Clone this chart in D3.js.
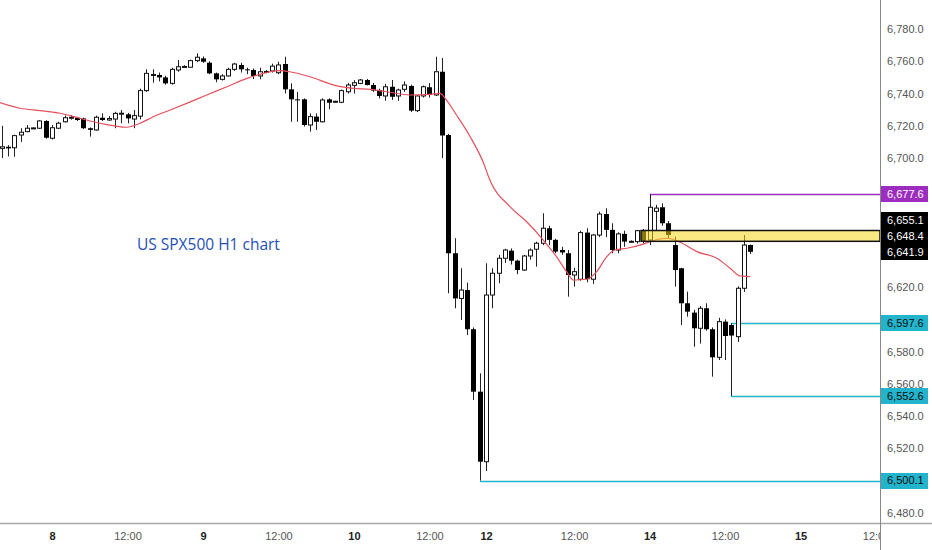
<!DOCTYPE html>
<html>
<head>
<meta charset="utf-8">
<script src="https://cdn.jsdelivr.net/npm/d3@7"></script>
<style>
  body { margin: 0; background: #fff; }
  svg { display: block; font-family: "Liberation Sans", Arial, sans-serif; }
</style>
</head>
<body>
<div id="chart"></div>
<script>
// hourly candles, index 0 .. 119
var openV = [6706,6707,6706.4,6714.3,6716.4,6718.5,6718.5,6723,6712.3,6718.5,
  6722.5,6725,6725,6724.6,6718.5,6717.4,6725,6723.6,6724.2,6727.5,
  6727.1,6724.2,6726,6741.8,6751.5,6751.5,6750,6746.3,6754.6,6756.6,
  6756.3,6760.4,6761.8,6759.1,6752.5,6748.8,6750.9,6755,6757.7,6755,
  6754.6,6750.9,6753.5,6754,6752.9,6758.3,6742.6,6736.4,6736.4,6720.5,
  6725.7,6722.5,6736.4,6735,6734.6,6741.1,6745.1,6746.3,6748.4,6745.3,
  6742.2,6738.5,6744.2,6738.5,6742.6,6744.7,6729.4,6738.5,6743.9,6739.1,
  6753.5,6714.3,6641,6613,6618.2,6593.9,6555.2,6511.8,6615.1,6628.6,
  6637.9,6642.6,6636.4,6630.6,6639.3,6643.5,6647.2,6656.5,6649.3,6643,
  6641,6627.5,6624.9,6653.8,6624.9,6652.3,6665.3,6655.5,6643,6653,
  6648.2,6648.2,6655,6649.2,6667,6669.5,6659.6,6646.1,6631.7,6610,
  6604.2,6594.5,6606.9,6593.9,6576.5,6598.6,6596.5,6589.3,6619.3,6646.1];
var highV = [6720,6708,6714.5,6718.5,6720.5,6719,6723.5,6723.5,6720.5,6722.5,
  6726.5,6726.5,6725.5,6725,6719,6726.3,6727.7,6726,6728.7,6729.8,
  6728,6729.8,6743,6755,6755,6753,6751,6756,6760.8,6757.5,
  6761,6764.9,6763,6760,6753,6752,6756,6759,6759,6756,
  6755.5,6756,6754.5,6758.5,6759.7,6762.8,6746.3,6741,6737,6727.7,
  6727.7,6737,6737,6735.5,6742.5,6746.5,6748.3,6749,6749,6746.5,
  6743,6746,6748.4,6743,6747.5,6745.5,6739,6745,6746.5,6762.8,
  6762,6715,6650.3,6631.7,6622.8,6595,6566.6,6634.8,6631.7,6640,
  6643.8,6644,6637,6640,6644,6648.2,6665.8,6658,6650,6645,
  6643,6632,6655,6656.5,6653,6666.8,6668.9,6659.6,6654,6655,
  6649,6655.5,6656,6677.6,6671,6672,6661,6651.3,6632,6617.2,
  6606,6608.3,6610,6595,6601,6600,6597.6,6620.5,6652.3,6646.5];
var lowV = [6700,6701,6700.8,6710,6716,6718,6718,6712,6711.5,6718,
  6722,6723.8,6723,6718,6713.3,6717,6723,6723,6718.5,6721.6,
  6721.5,6718.5,6724,6741,6746.7,6747.5,6745.5,6745.5,6753.5,6756,
  6756,6759.5,6759,6752,6747,6748,6750.5,6754,6753,6752,
  6749,6748.8,6752.5,6753,6752,6740.1,6722.5,6722.5,6719.5,6716.4,
  6717.4,6722,6730.2,6734.5,6734,6740,6740,6745.8,6745,6741,
  6737,6735.5,6736,6735.5,6741,6728.5,6728.5,6737.5,6737.5,6738.5,
  6700,6616.2,6606.9,6599.6,6590.3,6550,6500.1,6506,6606.9,6622.4,
  6635,6634,6628,6630,6637,6632.7,6646,6646,6641,6640,
  6614.1,6620.3,6624,6623,6622,6651,6651,6641,6641,6645,
  6647.5,6647,6647,6646,6655,6658,6650.3,6620.3,6596.5,6601.7,
  6583.1,6585,6593,6564.5,6574.8,6574.8,6552.6,6586,6617,6640.5];
var closeV = [6707,6706,6713.9,6716,6718.5,6718.7,6723,6712.6,6718.8,6721.6,
  6725,6725.3,6723.6,6718.5,6717.5,6725.3,6723.6,6724.5,6727.7,6727.8,
  6724.6,6726.3,6741.8,6752.5,6751.8,6750,6746.3,6755,6756.6,6756.8,
  6760.4,6762.5,6759.7,6752.5,6748.8,6750.9,6755,6758.3,6755,6754.5,
  6750.9,6753.5,6753.7,6757,6757.7,6742.6,6736.4,6736,6720.5,6725.7,
  6722.5,6736,6734.3,6735.2,6741.8,6745.3,6746.7,6748.4,6745.3,6741.8,
  6738.5,6744.2,6738,6742.2,6745.3,6729.4,6738.5,6744.2,6739.1,6753.5,
  6714,6641,6613,6618.2,6593.9,6555.2,6511.8,6615.1,6628.6,6637.9,
  6643,6636.4,6630.6,6639.3,6643,6647.2,6656.5,6649.3,6642,6641.5,
  6627.5,6629.6,6653.8,6624.9,6652.3,6665.3,6655.5,6643,6653,6648.2,
  6648.4,6655,6648.4,6669.5,6669,6659.6,6652.3,6630.6,6610,6604.8,
  6594.5,6606.9,6593.9,6576.5,6598.6,6589.7,6590,6619.3,6646.1,6641.9];

// moving average read at sample points (candle index, price)
var maIdx = [-0.3,2.9,6.1,9.3,12.4,15.6,18,19.9,22,24.1,26.8,29.4,32.6,35.8,39,41.6,44.2,45.8,
  49,53.3,55.9,58.6,61.2,64.9,68.1,69.7,70.5,72.3,74.5,76.6,77.6,80.8,83.5,86.1,88.2,89.8,
  90.9,93,94.6,96.2,97.5,99.4,102,103.1,105.7,107.8,110.5,113.7,115.8,117.4,119];
var maVal = [6734.4,6730.9,6729.4,6727.8,6724.7,6721.6,6719.9,6719.1,6721.6,6725.6,6729.8,6733.9,
  6739.1,6744.2,6749.4,6752.5,6754.2,6753.5,6750.4,6744.7,6743.2,6742.6,6741.1,6739.1,6739.5,
  6740.1,6737,6726.7,6713.1,6696.9,6686.4,6669.9,6660.4,6649.2,6638.9,6629.6,6624.4,6624.9,
  6629.6,6638.9,6643,6644.1,6646.7,6648.2,6650.3,6648,6642,6637.9,6631.7,6626.9,6626.5];

// time axis
var timeTickIdx = [8, 20, 32, 44, 56, 68, 77, 91, 103, 115, 127, 139];
var timeTickText = ["8", "12:00", "9", "12:00", "10", "12:00", "12", "12:00", "14", "12:00", "15", "12:00"];
var priceTicks = [6480, 6500, 6520, 6540, 6560, 6580, 6600, 6620, 6640, 6660, 6680, 6700, 6720, 6740, 6760, 6780];

// drawn levels: price and the candle where the line starts
var levelPrice = [6677.6, 6597.6, 6552.6, 6500.1];
var levelStart = [103, 116, 116, 76];
var levelKind = ["purple", "cyan", "cyan", "cyan"];
var zoneTop = 6655.1, zoneBottom = 6648.4, zoneStart = 102;
var lastPrice = 6641.9;
var note = "US SPX500 H1 chart";

var W = 932, H = 550, plotW = 880, plotH = 523;

var x = d3.scaleLinear().domain([-0.27, 139.63]).range([0, plotW]);
var y = d3.scaleLinear().domain([6480, 6780]).range([513, 29]);
var fmt = d3.format(",.1f");
var colors = { purple: "#9c2dc0", cyan: "#22b4cc" };

var svg = d3.select("#chart").append("svg").attr("width", W).attr("height", H);
svg.append("rect").attr("width", W).attr("height", H).attr("fill", "#fff");

var defs = svg.append("defs");
defs.append("clipPath").attr("id", "plotClip")
  .append("rect").attr("width", plotW).attr("height", plotH);

var plot = svg.append("g").attr("clip-path", "url(#plotClip)");

// note text
plot.append("text")
  .attr("x", x(21.5)).attr("y", y(6643))
  .attr("fill", "#2450b8")
  .style("font-family", "'Open Sans', sans-serif")
  .style("font-size", "15.5px")
  .text(note);

// level lines
plot.selectAll(".lvl").data(levelPrice).enter().append("line")
  .attr("class", "lvl")
  .attr("x1", function(d, i) { return Math.round(x(levelStart[i])); })
  .attr("x2", plotW)
  .attr("y1", function(d) { return Math.round(y(d)) + 0.5; })
  .attr("y2", function(d) { return Math.round(y(d)) + 0.5; })
  .attr("stroke", function(d, i) { return colors[levelKind[i]]; })
  .attr("stroke-width", 1.5);

// candles
var idx = d3.range(openV.length);
var cand = plot.selectAll(".cand").data(idx).enter().append("g").attr("class", "cand");
cand.append("line")
  .attr("x1", function(i) { return Math.round(x(i)) + 0.5; })
  .attr("x2", function(i) { return Math.round(x(i)) + 0.5; })
  .attr("y1", function(i) { return y(highV[i]); })
  .attr("y2", function(i) { return y(lowV[i]); })
  .attr("stroke", "#222").attr("stroke-width", 1);
cand.append("rect")
  .attr("x", function(i) { return closeV[i] >= openV[i] ? Math.round(x(i)) - 1.5 : Math.round(x(i)) - 2; })
  .attr("width", function(i) { return closeV[i] >= openV[i] ? 4 : 5; })
  .attr("y", function(i) { return y(Math.max(openV[i], closeV[i])); })
  .attr("height", function(i) { return Math.max(1, Math.abs(y(openV[i]) - y(closeV[i]))); })
  .attr("fill", function(i) { return closeV[i] >= openV[i] ? "#fff" : "#000"; })
  .attr("stroke", function(i) { return closeV[i] >= openV[i] ? "#111" : "none"; })
  .attr("stroke-width", 1);

// moving average
var maLine = d3.line()
  .x(function(d, i) { return x(maIdx[i]); })
  .y(function(d) { return y(d); })
  .curve(d3.curveMonotoneX);
plot.append("path").datum(maVal)
  .attr("d", maLine)
  .attr("fill", "none")
  .attr("stroke", "#e5505c")
  .attr("stroke-width", 1.2);

// yellow zone
plot.append("rect")
  .attr("x", Math.round(x(zoneStart)) - 2)
  .attr("y", y(zoneTop))
  .attr("width", plotW - Math.round(x(zoneStart)) + 2)
  .attr("height", y(zoneBottom) - y(zoneTop))
  .attr("fill", "rgba(245,215,30,0.55)")
  .attr("stroke", "#111")
  .attr("stroke-width", 1.5);

// price labels: zone edges and last price stack upwards from the last price
var labH = 16, labW = 47;
var stackVals = [zoneTop, zoneBottom, lastPrice];
var pos = [];
pos[2] = y(lastPrice);
pos[1] = Math.min(y(zoneBottom), pos[2] - labH);
pos[0] = Math.min(y(zoneTop), pos[1] - labH);
var labelYs = levelPrice.map(function(v) { return y(v); }).concat(pos);

// price axis, hiding the ticks that sit under a price label
var shownTicks = priceTicks.filter(function(t) {
  return labelYs.every(function(ly) { return Math.abs(y(t) - ly) >= 11; });
});
var yAxis = svg.append("g")
  .attr("transform", "translate(" + plotW + ",0)")
  .call(d3.axisRight(y).tickValues(shownTicks).tickFormat(fmt).tickSize(0).tickPadding(7));
yAxis.select(".domain").remove();
yAxis.selectAll("text")
  .attr("fill", "#555")
  .style("font-size", "11px")
  .style("font-family", "'Liberation Sans', Arial, sans-serif");

// time axis
var xAxisG = svg.append("g").attr("clip-path", "url(#timeClip)");
defs.append("clipPath").attr("id", "timeClip")
  .append("rect").attr("x", 0).attr("y", plotH).attr("width", plotW).attr("height", H - plotH);
var xAxis = xAxisG.append("g")
  .attr("transform", "translate(0," + plotH + ")")
  .call(d3.axisBottom(x).tickValues(timeTickIdx)
    .tickFormat(function(d, i) { return timeTickText[i]; })
    .tickSize(0).tickPadding(9));
xAxis.select(".domain").remove();
xAxis.selectAll("text")
  .style("font-size", "11px")
  .style("font-family", "'Liberation Sans', Arial, sans-serif")
  .attr("fill", function(d, i) { return timeTickText[i].indexOf(":") < 0 ? "#222" : "#555"; })
  .style("font-weight", function(d, i) { return timeTickText[i].indexOf(":") < 0 ? "bold" : "normal"; });

// axis borders
svg.append("line").attr("x1", 0).attr("x2", W).attr("y1", plotH + 0.5).attr("y2", plotH + 0.5)
  .attr("stroke", "#a8a8a8").attr("stroke-width", 1.5);
svg.append("line").attr("x1", plotW + 0.5).attr("x2", plotW + 0.5).attr("y1", 0).attr("y2", H)
  .attr("stroke", "#888").attr("stroke-width", 1);

function priceLabel(v, cy, bg, fg) {
  svg.append("rect")
    .attr("x", plotW + 1).attr("y", Math.round(cy - labH / 2))
    .attr("width", labW).attr("height", labH)
    .attr("fill", bg);
  svg.append("text")
    .attr("x", plotW + 7).attr("y", cy).attr("dy", "0.35em")
    .attr("fill", fg)
    .style("font-size", "11px")
    .text(fmt(v));
}
levelPrice.forEach(function(v, i) {
  priceLabel(v, y(v), colors[levelKind[i]], levelKind[i] == "purple" ? "#fff" : "#0a0a0a");
});
stackVals.forEach(function(v, i) { priceLabel(v, pos[i], "#000", "#fff"); });
</script>
</body>
</html>
